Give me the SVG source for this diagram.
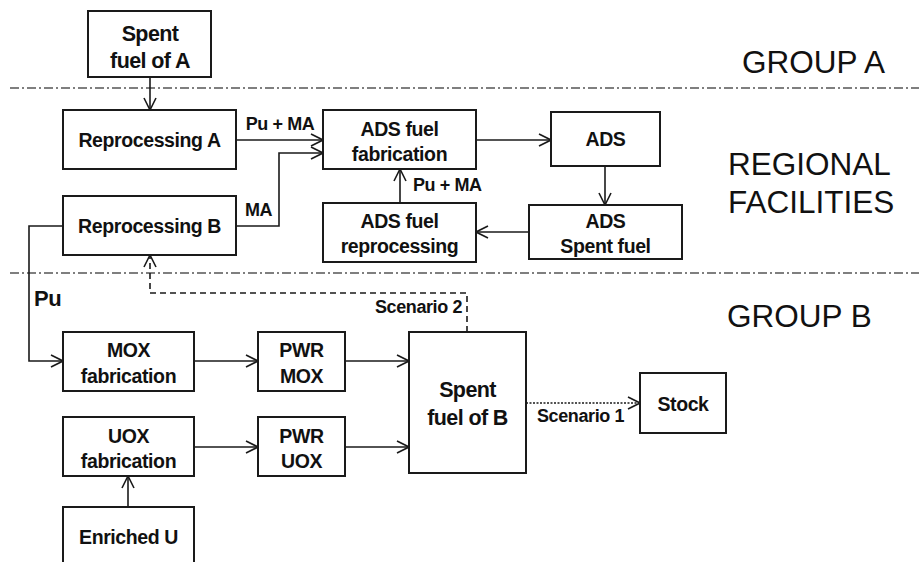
<svg xmlns="http://www.w3.org/2000/svg" width="919" height="562" viewBox="0 0 919 562">
<defs>
<style>
.box{fill:#fff;stroke:#1a1a1a;stroke-width:2}
.t{font-family:"Liberation Sans",Arial,sans-serif;font-weight:bold;font-size:19.5px;fill:#111;text-anchor:middle;letter-spacing:-0.4px}
.big{font-size:21.5px;letter-spacing:-0.6px}
.lbl{font-family:"Liberation Sans",Arial,sans-serif;font-weight:bold;font-size:18px;fill:#111;letter-spacing:-0.4px}
.grp{font-family:"Liberation Sans",Arial,sans-serif;font-size:31.5px;fill:#111}
.c{fill:none;stroke:#1a1a1a;stroke-width:1.6}
.sep{fill:none;stroke:#555;stroke-width:1.3;stroke-dasharray:9,3,2,3}
</style>
<marker id="ah" viewBox="0 0 14 14" refX="13" refY="7" markerWidth="14" markerHeight="14" markerUnits="userSpaceOnUse" orient="auto">
<path d="M1,1 L13,7 L1,13" fill="none" stroke="#1a1a1a" stroke-width="1.6"/>
</marker>
</defs>
<rect width="919" height="562" fill="#fff"/>

<g id="separators">
<line class="sep" x1="10" y1="88" x2="919" y2="88"/>
<line class="sep" x1="10" y1="273" x2="919" y2="273"/>
</g>

<g id="region-labels">
<text class="grp" x="742" y="73">GROUP A</text>
<text class="grp" x="728" y="175">REGIONAL</text>
<text class="grp" x="728" y="213">FACILITIES</text>
<text class="grp" x="727" y="327">GROUP B</text>
</g>

<g id="connectors">
<path class="c" d="M150,77 V110" marker-end="url(#ah)"/>
<path class="c" d="M236,140 H323" marker-end="url(#ah)"/>
<path class="c" d="M236,226 H279 V153 H323" marker-end="url(#ah)"/>
<path class="c" d="M400,203 V169" marker-end="url(#ah)"/>
<path class="c" d="M476,140 H551" marker-end="url(#ah)"/>
<path class="c" d="M605,166 V205" marker-end="url(#ah)"/>
<path class="c" d="M529,232 H476" marker-end="url(#ah)"/>
<path class="c" d="M63,226 H29 V361 H63" marker-end="url(#ah)"/>
<path class="c" d="M194,361 H258" marker-end="url(#ah)"/>
<path class="c" d="M345,361 H409" marker-end="url(#ah)"/>
<path class="c" d="M194,447 H258" marker-end="url(#ah)"/>
<path class="c" d="M345,447 H409" marker-end="url(#ah)"/>
<path class="c" d="M128,507 V476" marker-end="url(#ah)"/>
<path class="c" d="M467,332 V293 H150 V255" stroke-dasharray="6,4" marker-end="url(#ah)"/>
<path class="c" d="M526,403 H640" stroke-dasharray="2,1.5" marker-end="url(#ah)"/>
<text class="lbl" x="280" y="130" text-anchor="middle">Pu + MA</text>
<text class="lbl" x="245" y="216">MA</text>
<text class="lbl" x="413" y="191">Pu + MA</text>
<text class="lbl" x="34" y="306" style="font-size:22px">Pu</text>
<text class="lbl" x="462" y="313" text-anchor="end">Scenario 2</text>
<text class="lbl" x="537" y="422">Scenario 1</text>
</g>

<g id="spent-fuel-a">
<rect class="box" x="88" y="11" width="123" height="66"/>
<text class="t big" x="150" y="41">Spent</text>
<text class="t big" x="150" y="68">fuel of A</text>
</g>
<g id="reprocessing-a">
<rect class="box" x="63" y="110" width="173" height="59"/>
<text class="t" x="149.5" y="147">Reprocessing A</text>
</g>
<g id="reprocessing-b">
<rect class="box" x="63" y="196" width="173" height="59"/>
<text class="t" x="149.5" y="233">Reprocessing B</text>
</g>
<g id="ads-fuel-fabrication">
<rect class="box" x="323" y="110" width="153" height="59"/>
<text class="t" x="399.5" y="136">ADS fuel</text>
<text class="t" x="399.5" y="161">fabrication</text>
</g>
<g id="ads-fuel-reprocessing">
<rect class="box" x="323" y="203" width="153" height="59"/>
<text class="t" x="399.5" y="228">ADS fuel</text>
<text class="t" x="399.5" y="253">reprocessing</text>
</g>
<g id="ads">
<rect class="box" x="551" y="112" width="109" height="54"/>
<text class="t" x="605.5" y="146">ADS</text>
</g>
<g id="ads-spent-fuel">
<rect class="box" x="529" y="205" width="153" height="54"/>
<text class="t" x="605.5" y="228">ADS</text>
<text class="t" x="605.5" y="253">Spent fuel</text>
</g>
<g id="mox-fabrication">
<rect class="box" x="63" y="332" width="131" height="59"/>
<text class="t" x="128.5" y="357">MOX</text>
<text class="t" x="128.5" y="383">fabrication</text>
</g>
<g id="pwr-mox">
<rect class="box" x="258" y="332" width="87" height="59"/>
<text class="t" x="301.5" y="357">PWR</text>
<text class="t" x="301.5" y="383">MOX</text>
</g>
<g id="uox-fabrication">
<rect class="box" x="63" y="417" width="131" height="59"/>
<text class="t" x="128.5" y="443">UOX</text>
<text class="t" x="128.5" y="468">fabrication</text>
</g>
<g id="pwr-uox">
<rect class="box" x="258" y="417" width="87" height="59"/>
<text class="t" x="301.5" y="443">PWR</text>
<text class="t" x="301.5" y="468">UOX</text>
</g>
<g id="enriched-u">
<rect class="box" x="63" y="507" width="131" height="70"/>
<text class="t" x="128.5" y="544">Enriched U</text>
</g>
<g id="spent-fuel-b">
<rect class="box" x="409" y="332" width="117" height="141"/>
<text class="t big" x="467.5" y="397">Spent</text>
<text class="t big" x="467.5" y="425">fuel of B</text>
</g>
<g id="stock">
<rect class="box" x="640" y="373" width="86" height="60"/>
<text class="t" x="683" y="411">Stock</text>
</g>
</svg>
